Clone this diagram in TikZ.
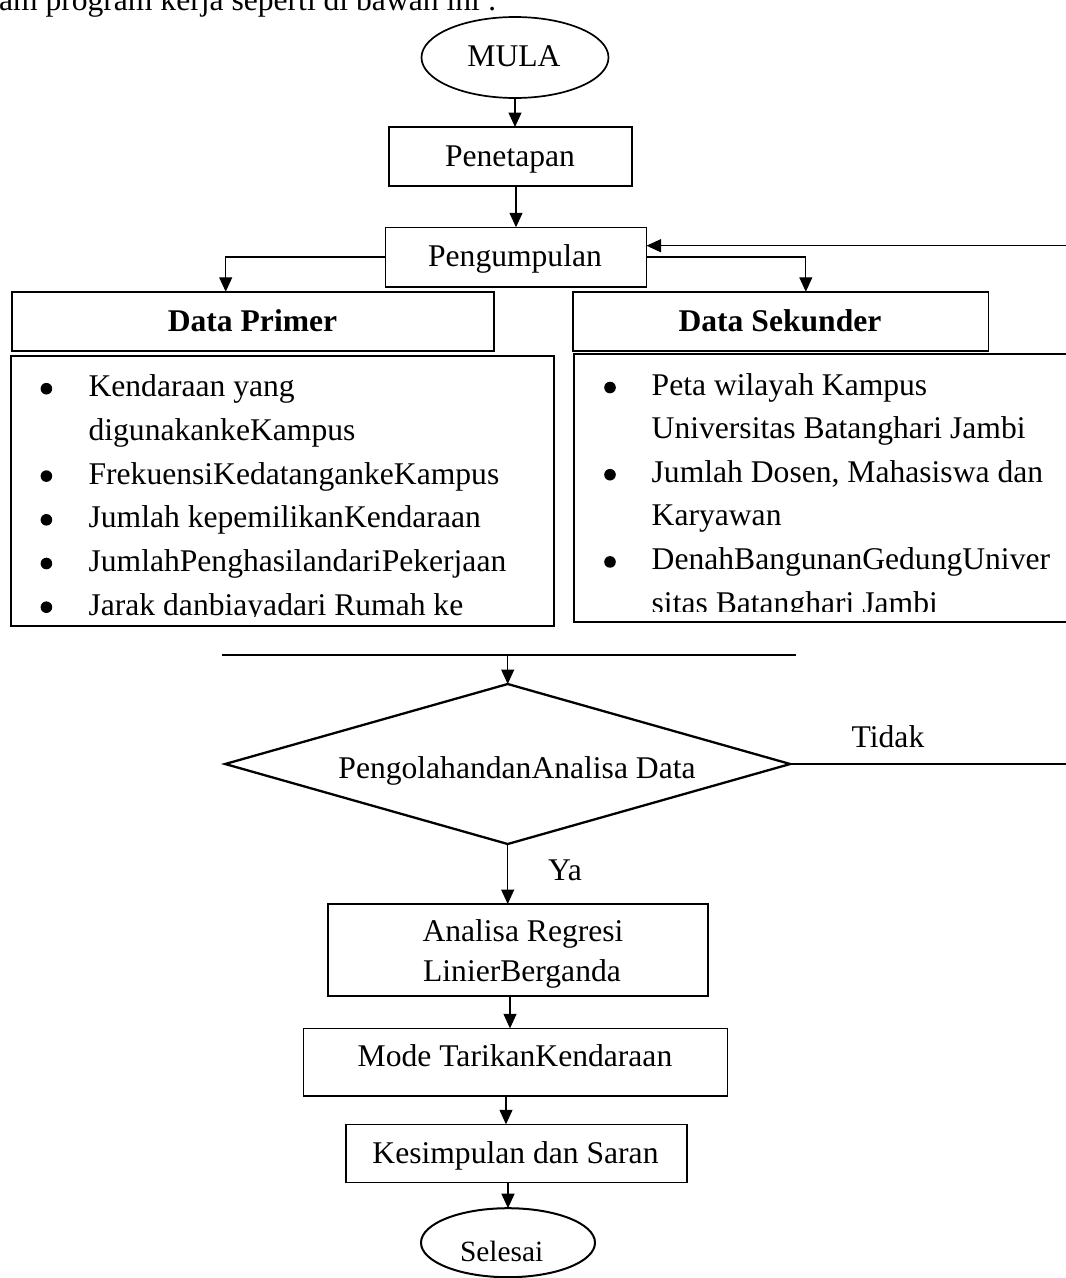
\documentclass[tikz,border=0pt]{standalone}
\usepackage{fontspec}
\setmainfont{Liberation Serif}
\usetikzlibrary{shapes.geometric,arrows.meta,calc}
\newcommand\myfs{\fontsize{31.6}{38}\selectfont}
\newcommand\mysmallfs{\fontsize{29.4}{35}\selectfont}
\begin{document}
\begin{tikzpicture}[x=1pt,y=-1pt,
  every node/.style={font=\myfs, inner sep=0pt, outer sep=0pt},
  box/.style={draw, line width=1.6pt, rectangle, inner sep=0pt},
  listbox/.style={draw, line width=1.9pt, rectangle, inner sep=0pt},
  oval/.style={draw, line width=1.7pt, ellipse, inner sep=0pt},
  txt/.style={anchor=base},
  ltxt/.style={anchor=base west},
  bold/.style={font=\myfs\bfseries},
  dot/.style={circle, fill=black, minimum size=11.6pt, inner sep=0pt},
  arr/.style={line width=1.2pt, -{Triangle[length=14.5pt,width=13pt]}},
  ln/.style={line width=1.2pt},
]
\useasboundingbox (0,0) rectangle (1066,1278);
\begin{scope}
\clip (0,0) rectangle (1066,1278);

% top text (cut at top edge as in the reference)
\node[ltxt] (toptext) at (-1,10) {am program kerja seperti di bawah ini :};

% start
\node[oval, minimum width=187pt, minimum height=81pt] (mula) at (515,57.5) {};
\node[txt] (tmula) at (514,66) {MULA};

\node[box, minimum width=243pt, minimum height=59pt] (pen) at (510.5,156.5) {};
\node[txt] (tpen) at (510,166.7) {Penetapan};

\node[box, minimum width=261pt, minimum height=59.4pt] (peng) at (516,257) {};
\node[txt] (tpeng) at (515,266.7) {Pengumpulan};

\node[box, minimum width=482.2pt, minimum height=59.3pt] (dp) at (252.9,321.4) {};
\node[txt, bold] (tdp) at (252.5,331.7) {Data Primer};

\node[box, minimum width=415.5pt, minimum height=59.3pt] (ds) at (780.8,321.4) {};
\node[txt, bold] (tds) at (780,331.7) {Data Sekunder};

% list boxes
\node[listbox, minimum width=542.9pt, minimum height=270.3pt] (pl) at (282.15,490.85) {};
\node[listbox, minimum width=540pt, minimum height=267.7pt, anchor=north west] (sl) at (574,354) {};

\begin{scope}
\clip (pl.north west) rectangle ([yshift=10pt]pl.south east);
\node[dot] (pb1) at (46.4,388.7) {};
\node[ltxt] (p1) at (88.6,396.7) {Kendaraan yang};
\node[ltxt] (p2) at (88.6,440.4) {digunakankeKampus};
\node[dot] (pb3) at (46.4,476.1) {};
\node[ltxt] (p3) at (88.6,484.1) {FrekuensiKedatangankeKampus};
\node[dot] (pb4) at (46.4,519.8) {};
\node[ltxt] (p4) at (88.6,527.8) {Jumlah kepemilikanKendaraan};
\node[dot] (pb5) at (46.4,563.5) {};
\node[ltxt] (p5) at (88.6,571.5) {JumlahPenghasilandariPekerjaan};
\node[dot] (pb6) at (46.4,607.2) {};
\node[ltxt] (p6) at (88.6,615.2) {Jarak danbiayadari Rumah ke};
\end{scope}

\begin{scope}
\clip (sl.north west) rectangle ([yshift=10pt]sl.south east);
\node[dot] (sb1) at (610,387.5) {};
\node[ltxt] (s1) at (651.7,395) {Peta wilayah Kampus};
\node[ltxt] (s2) at (651.7,438.6) {Universitas Batanghari Jambi};
\node[dot] (sb3) at (610,474.7) {};
\node[ltxt] (s3) at (651.7,482.2) {Jumlah Dosen, Mahasiswa dan};
\node[ltxt] (s4) at (651.7,525.8) {Karyawan};
\node[dot] (sb5) at (610,561.9) {};
\node[ltxt] (s5) at (651.7,569.4) {DenahBangunanGedungUniver};
\node[ltxt] (s6) at (651.7,613) {sitas Batanghari Jambi};
\end{scope}

% merge line
\coordinate (mL) at (222.4,655);
\coordinate (mR) at (795.9,655);
\draw[ln] (mL) -- (mR);

% decision
\node[draw, diamond, line width=2.3pt, minimum width=565pt, minimum height=160pt, inner sep=0pt] (dia) at (507.7,764) {};
\node[txt] (tdia) at (517,778) {PengolahandanAnalisa Data};
\node[txt] (ttidak) at (888,747) {Tidak};
\node[txt] (tya) at (565,880) {Ya};

\node[box, minimum width=380pt, minimum height=92pt] (an) at (517.7,950) {};
\node[txt] (tan1) at (523,941.7) {Analisa Regresi};
\node[txt] (tan2) at (522,981.7) {LinierBerganda};

\node[box, minimum width=424pt, minimum height=67.7pt] (mode) at (515.3,1062.2) {};
\node[txt] (tmode) at (515,1066.7) {Mode TarikanKendaraan};

\node[box, minimum width=341pt, minimum height=58pt] (kes) at (516.2,1153.3) {};
\node[txt] (tkes) at (515.5,1163.3) {Kesimpulan dan Saran};

\node[oval, line width=2pt, minimum width=174pt, minimum height=69pt] (sel) at (508,1242.7) {};
\node[txt, font=\mysmallfs] (tsel) at (501.7,1261.7) {Selesai};

% connectors
\draw[arr] (mula.south) -- (mula.south |- pen.north);
\draw[arr] (peng.north |- pen.south) -- (peng.north);
\draw[arr] (peng.west) -| ([xshift=-27.2pt]dp.north);
\draw[arr] (peng.east) -| ([xshift=25pt]ds.north);
\draw[arr] (dia.north |- mL) -- (dia.north);
\draw[arr] (dia.south) -- (dia.south |- an.north);
\draw[arr] ([xshift=-7.7pt]an.south) -- ([xshift=-7.7pt]an.south |- mode.north);
\draw[arr] ([xshift=-9.3pt]mode.south) -- ([xshift=-9.3pt]mode.south |- kes.north);
\draw[arr] (sel.north |- kes.south) -- (sel.north);
\coordinate (loop) at (1100,764);
\draw[arr] (dia.east) -- (loop) |- ([yshift=11.3pt]peng.east);
\end{scope}
\end{tikzpicture}
\end{document}
